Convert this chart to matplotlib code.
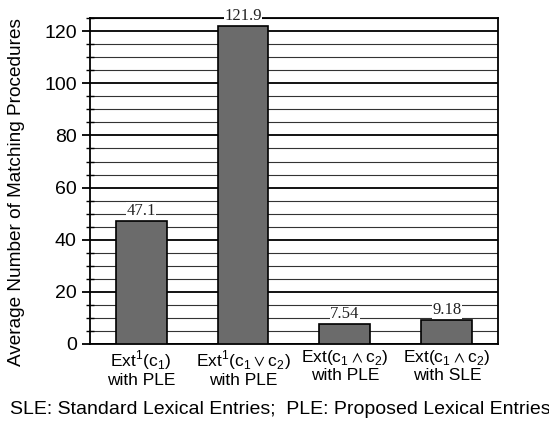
import numpy as np
import matplotlib.pyplot as plt
from matplotlib.ticker import MultipleLocator

plt.rcParams['font.family'] = ['Liberation Sans', 'DejaVu Sans']
plt.rcParams['mathtext.fontset'] = 'custom'
plt.rcParams['mathtext.rm'] = 'Liberation Sans'
plt.rcParams['mathtext.fallback'] = 'stixsans'

categories = ['Ext$^1$(c$_1$)\nwith PLE',
              'Ext$^1$(c$_1\\vee$c$_2$)\nwith PLE',
              'Ext(c$_1\\wedge$c$_2$)\nwith PLE',
              'Ext(c$_1\\wedge$c$_2$)\nwith SLE']
values = [47.1, 121.9, 7.54, 9.18]
value_labels = ['47.1', '121.9', '7.54', '9.18']

fig = plt.figure(figsize=(5.49, 4.23), dpi=100)
ax = fig.add_axes([0.164, 0.187, 0.743, 0.770])

x = np.arange(len(categories))
ax.bar(x, values, width=0.5, color='#6b6b6b', edgecolor='black', linewidth=1.2, zorder=3)

ax.set_xlim(-0.5, len(categories) - 0.5)
ax.set_ylim(0, 125)
ax.yaxis.set_major_locator(MultipleLocator(20))
ax.yaxis.set_minor_locator(MultipleLocator(5))
ax.grid(axis='y', which='major', color='black', linewidth=1.3, zorder=1)
ax.grid(axis='y', which='minor', color='#333333', linewidth=0.8, zorder=1)

for xi, v, lab in zip(x, values, value_labels):
    ax.text(xi, v + 0.8, lab, ha='center', va='bottom', fontsize=12,
            family='Liberation Serif', color='#222222',
            bbox=dict(facecolor='white', edgecolor='none', pad=0.5), zorder=4)

ax.set_xticks(x)
ax.set_xticklabels(categories, fontsize=12.5, linespacing=1.1)
ax.tick_params(axis='x', length=0, pad=3)
ax.tick_params(axis='y', which='major', direction='out', length=6, width=1.3, labelsize=14)
ax.tick_params(axis='y', which='minor', direction='inout', length=6, width=1)
for s in ax.spines.values():
    s.set_linewidth(1.3)

ax.set_ylabel('Average Number of Matching Procedures', fontsize=13.7)
ax.yaxis.set_label_coords(-0.16, 0.466)
fig.text(0.51, 0.032, 'SLE: Standard Lexical Entries;  PLE: Proposed Lexical Entries',
         ha='center', va='center', fontsize=14)

fig.savefig('out.png', dpi=100)
